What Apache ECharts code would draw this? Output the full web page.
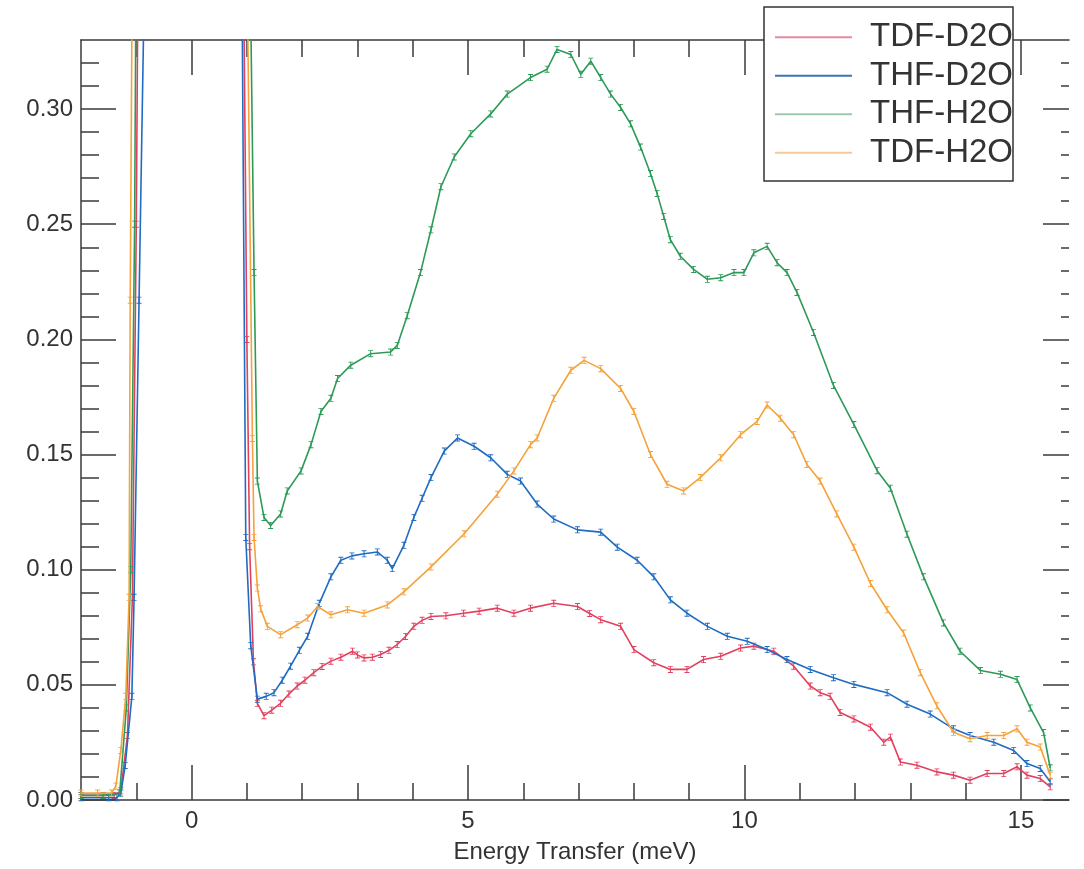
<!DOCTYPE html>
<html>
<head>
<meta charset="utf-8">
<script src="https://cdn.jsdelivr.net/npm/echarts@6/dist/echarts.min.js"></script>
<style>html,body{margin:0;padding:0;background:#fff}#c{width:1084px;height:869px}</style>
</head>
<body>
<div id="c"></div>
<script>
// ---- data (x in meV, y intensity) ----
const seriesNames = ['TDF-D2O', 'THF-D2O', 'THF-H2O', 'TDF-H2O'];

const tdfD2O = [[-2.0,0.002],[-1.6,0.002],[-1.4,0.002],[-1.28,0.004],[-1.16,0.028],[-1.07,0.088],[-1.0,0.25],[-0.9,0.6],[-0.5,2.5],[0,4],[0.5,2.5],[0.88,0.6],[0.94,0.36],[1.0,0.2],[1.05,0.11],[1.12,0.06],[1.19,0.042],[1.31,0.0366],[1.45,0.039],[1.61,0.042],[1.76,0.046],[1.91,0.0495],[2.05,0.052],[2.21,0.0553],[2.36,0.058],[2.52,0.0603],[2.7,0.062],[2.91,0.0646],[3.0,0.063],[3.12,0.0617],[3.27,0.062],[3.42,0.0632],[3.57,0.065],[3.72,0.0675],[3.87,0.071],[4.02,0.0754],[4.17,0.078],[4.33,0.0797],[4.6,0.080],[4.92,0.0811],[5.2,0.082],[5.53,0.0833],[5.83,0.0811],[6.13,0.0833],[6.55,0.0854],[6.98,0.084],[7.2,0.081],[7.40,0.0783],[7.76,0.0754],[8.00,0.0653],[8.36,0.0596],[8.66,0.0567],[8.96,0.0567],[9.26,0.061],[9.57,0.0624],[9.93,0.066],[10.17,0.0668],[10.53,0.0646],[10.89,0.0581],[11.19,0.0495],[11.37,0.0466],[11.55,0.045],[11.73,0.038],[11.98,0.0352],[12.28,0.0316],[12.52,0.0251],[12.64,0.0273],[12.82,0.0165],[13.12,0.0151],[13.48,0.0122],[13.78,0.0108],[14.08,0.0086],[14.39,0.0115],[14.69,0.0115],[14.93,0.0144],[15.11,0.0108],[15.35,0.0093],[15.53,0.0057]];

const thfD2O = [[-2.0,0.001],[-1.5,0.001],[-1.35,0.001],[-1.28,0.003],[-1.2,0.015],[-1.08,0.045],[-1.04,0.088],[-0.95,0.217],[-0.85,0.36],[-0.8,0.6],[-0.5,2.5],[0,4],[0.5,2.5],[0.85,0.6],[0.91,0.36],[0.98,0.114],[1.07,0.067],[1.19,0.0438],[1.35,0.045],[1.49,0.0466],[1.64,0.052],[1.79,0.0581],[1.95,0.065],[2.10,0.0711],[2.31,0.0854],[2.52,0.0969],[2.70,0.1041],[2.9,0.106],[3.12,0.1069],[3.36,0.1077],[3.54,0.1041],[3.63,0.1005],[3.84,0.1106],[4.02,0.1227],[4.17,0.131],[4.33,0.140],[4.57,0.1515],[4.81,0.1572],[5.11,0.1536],[5.41,0.1486],[5.71,0.1414],[5.95,0.1385],[6.25,0.1285],[6.55,0.122],[6.98,0.1173],[7.40,0.1163],[7.70,0.1098],[8.06,0.1041],[8.36,0.0969],[8.66,0.0869],[8.96,0.0811],[9.33,0.0754],[9.69,0.0711],[10.05,0.0689],[10.41,0.0653],[10.77,0.061],[11.19,0.0567],[11.61,0.0531],[11.98,0.0502],[12.58,0.0466],[12.94,0.0416],[13.36,0.0373],[13.78,0.0309],[14.08,0.028],[14.51,0.0251],[14.87,0.0215],[15.11,0.0158],[15.35,0.0137],[15.53,0.0079]];

const thfH2O = [[-2.0,0.002],[-1.6,0.002],[-1.3,0.003],[-1.18,0.04],[-1.1,0.1],[-1.03,0.25],[-0.95,0.6],[-0.5,2.5],[0,4],[0.5,2.5],[1.0,0.6],[1.06,0.36],[1.13,0.229],[1.19,0.1385],[1.31,0.1227],[1.43,0.1192],[1.61,0.1242],[1.73,0.1342],[1.98,0.1429],[2.16,0.1543],[2.34,0.1687],[2.52,0.1744],[2.64,0.183],[2.88,0.1888],[3.24,0.1938],[3.60,0.1945],[3.72,0.1974],[3.90,0.2103],[4.14,0.229],[4.33,0.2476],[4.51,0.2663],[4.75,0.2792],[5.05,0.2893],[5.41,0.2979],[5.71,0.3065],[6.13,0.3137],[6.43,0.3173],[6.61,0.3259],[6.86,0.3237],[7.04,0.3151],[7.22,0.3208],[7.40,0.3137],[7.58,0.3065],[7.76,0.3007],[7.94,0.2936],[8.12,0.2835],[8.30,0.272],[8.42,0.2634],[8.54,0.2534],[8.66,0.2433],[8.84,0.2361],[9.08,0.2304],[9.33,0.2261],[9.57,0.2268],[9.81,0.229],[9.99,0.229],[10.17,0.2376],[10.41,0.2404],[10.59,0.2333],[10.77,0.229],[10.95,0.2204],[11.25,0.203],[11.61,0.180],[11.98,0.163],[12.40,0.143],[12.64,0.1354],[12.94,0.1154],[13.24,0.0969],[13.60,0.0769],[13.90,0.0646],[14.27,0.0562],[14.63,0.0546],[14.93,0.0523],[15.17,0.040],[15.41,0.0293],[15.53,0.014]];

const tdfH2O = [[-2.0,0.003],[-1.7,0.003],[-1.45,0.003],[-1.37,0.006],[-1.28,0.0215],[-1.19,0.045],[-1.13,0.088],[-1.11,0.217],[-1.07,0.37],[-1.0,0.8],[-0.5,2.5],[0,4],[0.5,2.5],[0.95,0.6],[1.0,0.37],[1.10,0.157],[1.13,0.114],[1.19,0.092],[1.25,0.083],[1.37,0.0754],[1.61,0.0718],[1.91,0.0761],[2.1,0.079],[2.28,0.084],[2.52,0.0804],[2.82,0.0826],[3.12,0.0811],[3.54,0.0847],[3.84,0.0904],[4.33,0.1012],[4.93,0.1156],[5.53,0.1328],[5.83,0.1429],[6.13,0.1543],[6.25,0.1572],[6.55,0.1744],[6.86,0.1866],[7.10,0.1909],[7.40,0.1873],[7.76,0.1787],[8.00,0.1687],[8.30,0.150],[8.60,0.1371],[8.90,0.1342],[9.20,0.140],[9.57,0.1486],[9.93,0.1586],[10.23,0.1644],[10.41,0.1715],[10.65,0.1658],[10.89,0.1586],[11.13,0.1457],[11.37,0.1385],[11.67,0.1242],[11.98,0.1098],[12.28,0.094],[12.58,0.0826],[12.88,0.0725],[13.18,0.0553],[13.48,0.0409],[13.78,0.0294],[14.08,0.0266],[14.39,0.028],[14.69,0.028],[14.93,0.0309],[15.11,0.0251],[15.35,0.023],[15.53,0.0108]];

const xMajorTicks = [0, 5, 10, 15];
const xMinorTicks = [-1, 1, 2, 3, 4, 6, 7, 8, 9, 11, 12, 13, 14];
const yMajorTicks = [0, 0.05, 0.10, 0.15, 0.20, 0.25, 0.30];
const yMinorTicks = [0.01,0.02,0.03,0.04,0.06,0.07,0.08,0.09,0.11,0.12,0.13,0.14,0.16,0.17,0.18,0.19,0.21,0.22,0.23,0.24,0.26,0.27,0.28,0.29,0.31,0.32];
const xTitle = 'Energy Transfer (meV)';

// ---- chart ----
const X_MIN = -2, X_MAX = 15.87, Y_MIN = 0, Y_MAX = 0.33;
const FONT = 'Liberation Sans';
const AX = '#3a3a3a';
const colors = ['#e2405f', '#1f6cc2', '#2d9a58', '#f5a23a'];
const legendColors = ['#e68aa0', '#3a75b5', '#9cc9ac', '#f6c999'];
const dataSets = [tdfD2O, thfD2O, thfH2O, tdfH2O];
const errSym = 'path://M0,0H5V1H3V7H5V8H0V7H2V1H0Z';

function xAxisDef(pos, ticks, len, showLine, showLabel) {
  return {
    type: 'value', position: pos, min: X_MIN, max: X_MAX,
    splitLine: { show: false },
    axisLine: { show: showLine, onZero: false, lineStyle: { color: AX, width: 1.5 } },
    axisTick: { show: true, inside: true, length: len, customValues: ticks, lineStyle: { color: AX, width: 1.5 } },
    axisLabel: showLabel ? { show: true, customValues: ticks, margin: 9, fontSize: 24, fontFamily: FONT, color: '#333',
      formatter: v => String(Math.round(v)) } : { show: false }
  };
}
function yAxisDef(pos, ticks, len, showLine, showLabel) {
  return {
    type: 'value', position: pos, min: Y_MIN, max: Y_MAX,
    splitLine: { show: false },
    axisLine: { show: showLine, onZero: false, lineStyle: { color: AX, width: 1.5 } },
    axisTick: { show: true, inside: true, length: len, customValues: ticks, lineStyle: { color: AX, width: 1.5 } },
    axisLabel: showLabel ? { show: true, customValues: ticks, margin: 8, fontSize: 24, fontFamily: FONT, color: '#333',
      formatter: v => v.toFixed(2) } : { show: false }
  };
}

const xAxes = [
  xAxisDef('bottom', xMajorTicks, 35, true, true),
  xAxisDef('bottom', xMinorTicks, 17, false, false),
  xAxisDef('top', xMajorTicks, 35, true, false),
  xAxisDef('top', xMinorTicks, 17, false, false)
];
xAxes[0].name = xTitle;
xAxes[0].nameLocation = 'middle';
xAxes[0].nameGap = 40;
xAxes[0].nameTextStyle = { fontSize: 24, fontFamily: FONT, color: '#333' };

const yAxes = [
  yAxisDef('left', yMajorTicks, 35, true, true),
  yAxisDef('left', yMinorTicks, 18, false, false),
  yAxisDef('right', yMajorTicks, 26, false, false),
  yAxisDef('right', yMinorTicks, 8, false, false)
];

const chart = echarts.init(document.getElementById('c'), null, { renderer: 'canvas' });
chart.setOption({
  animation: false,
  backgroundColor: '#fff',
  grid: { left: 81, right: 15, top: 40, bottom: 64, containLabel: false },
  xAxis: xAxes,
  yAxis: yAxes,
  legend: {
    orient: 'vertical', left: 764, top: 7, z: 20,
    backgroundColor: '#fff', borderColor: '#333', borderWidth: 1.5,
    padding: [11, 0, 9, 11],
    itemGap: 0, itemWidth: 77, itemHeight: 2, icon: 'rect',
    textStyle: { fontSize: 33, fontFamily: FONT, color: '#333', lineHeight: 38.5, padding: [0, 0, 0, 13] },
    data: seriesNames.map((n, i) => ({ name: n, itemStyle: { color: legendColors[i] } }))
  },
  series: seriesNames.map((n, i) => ({
    name: n, type: 'line', data: dataSets[i],
    xAxisIndex: 0, yAxisIndex: 0, clip: true,
    symbol: errSym, symbolSize: [5, 7], showSymbol: true,
    itemStyle: { color: colors[i] },
    lineStyle: { color: colors[i], width: 1.6 },
    z: 2 + i
  }))
});
</script>
</body>
</html>
